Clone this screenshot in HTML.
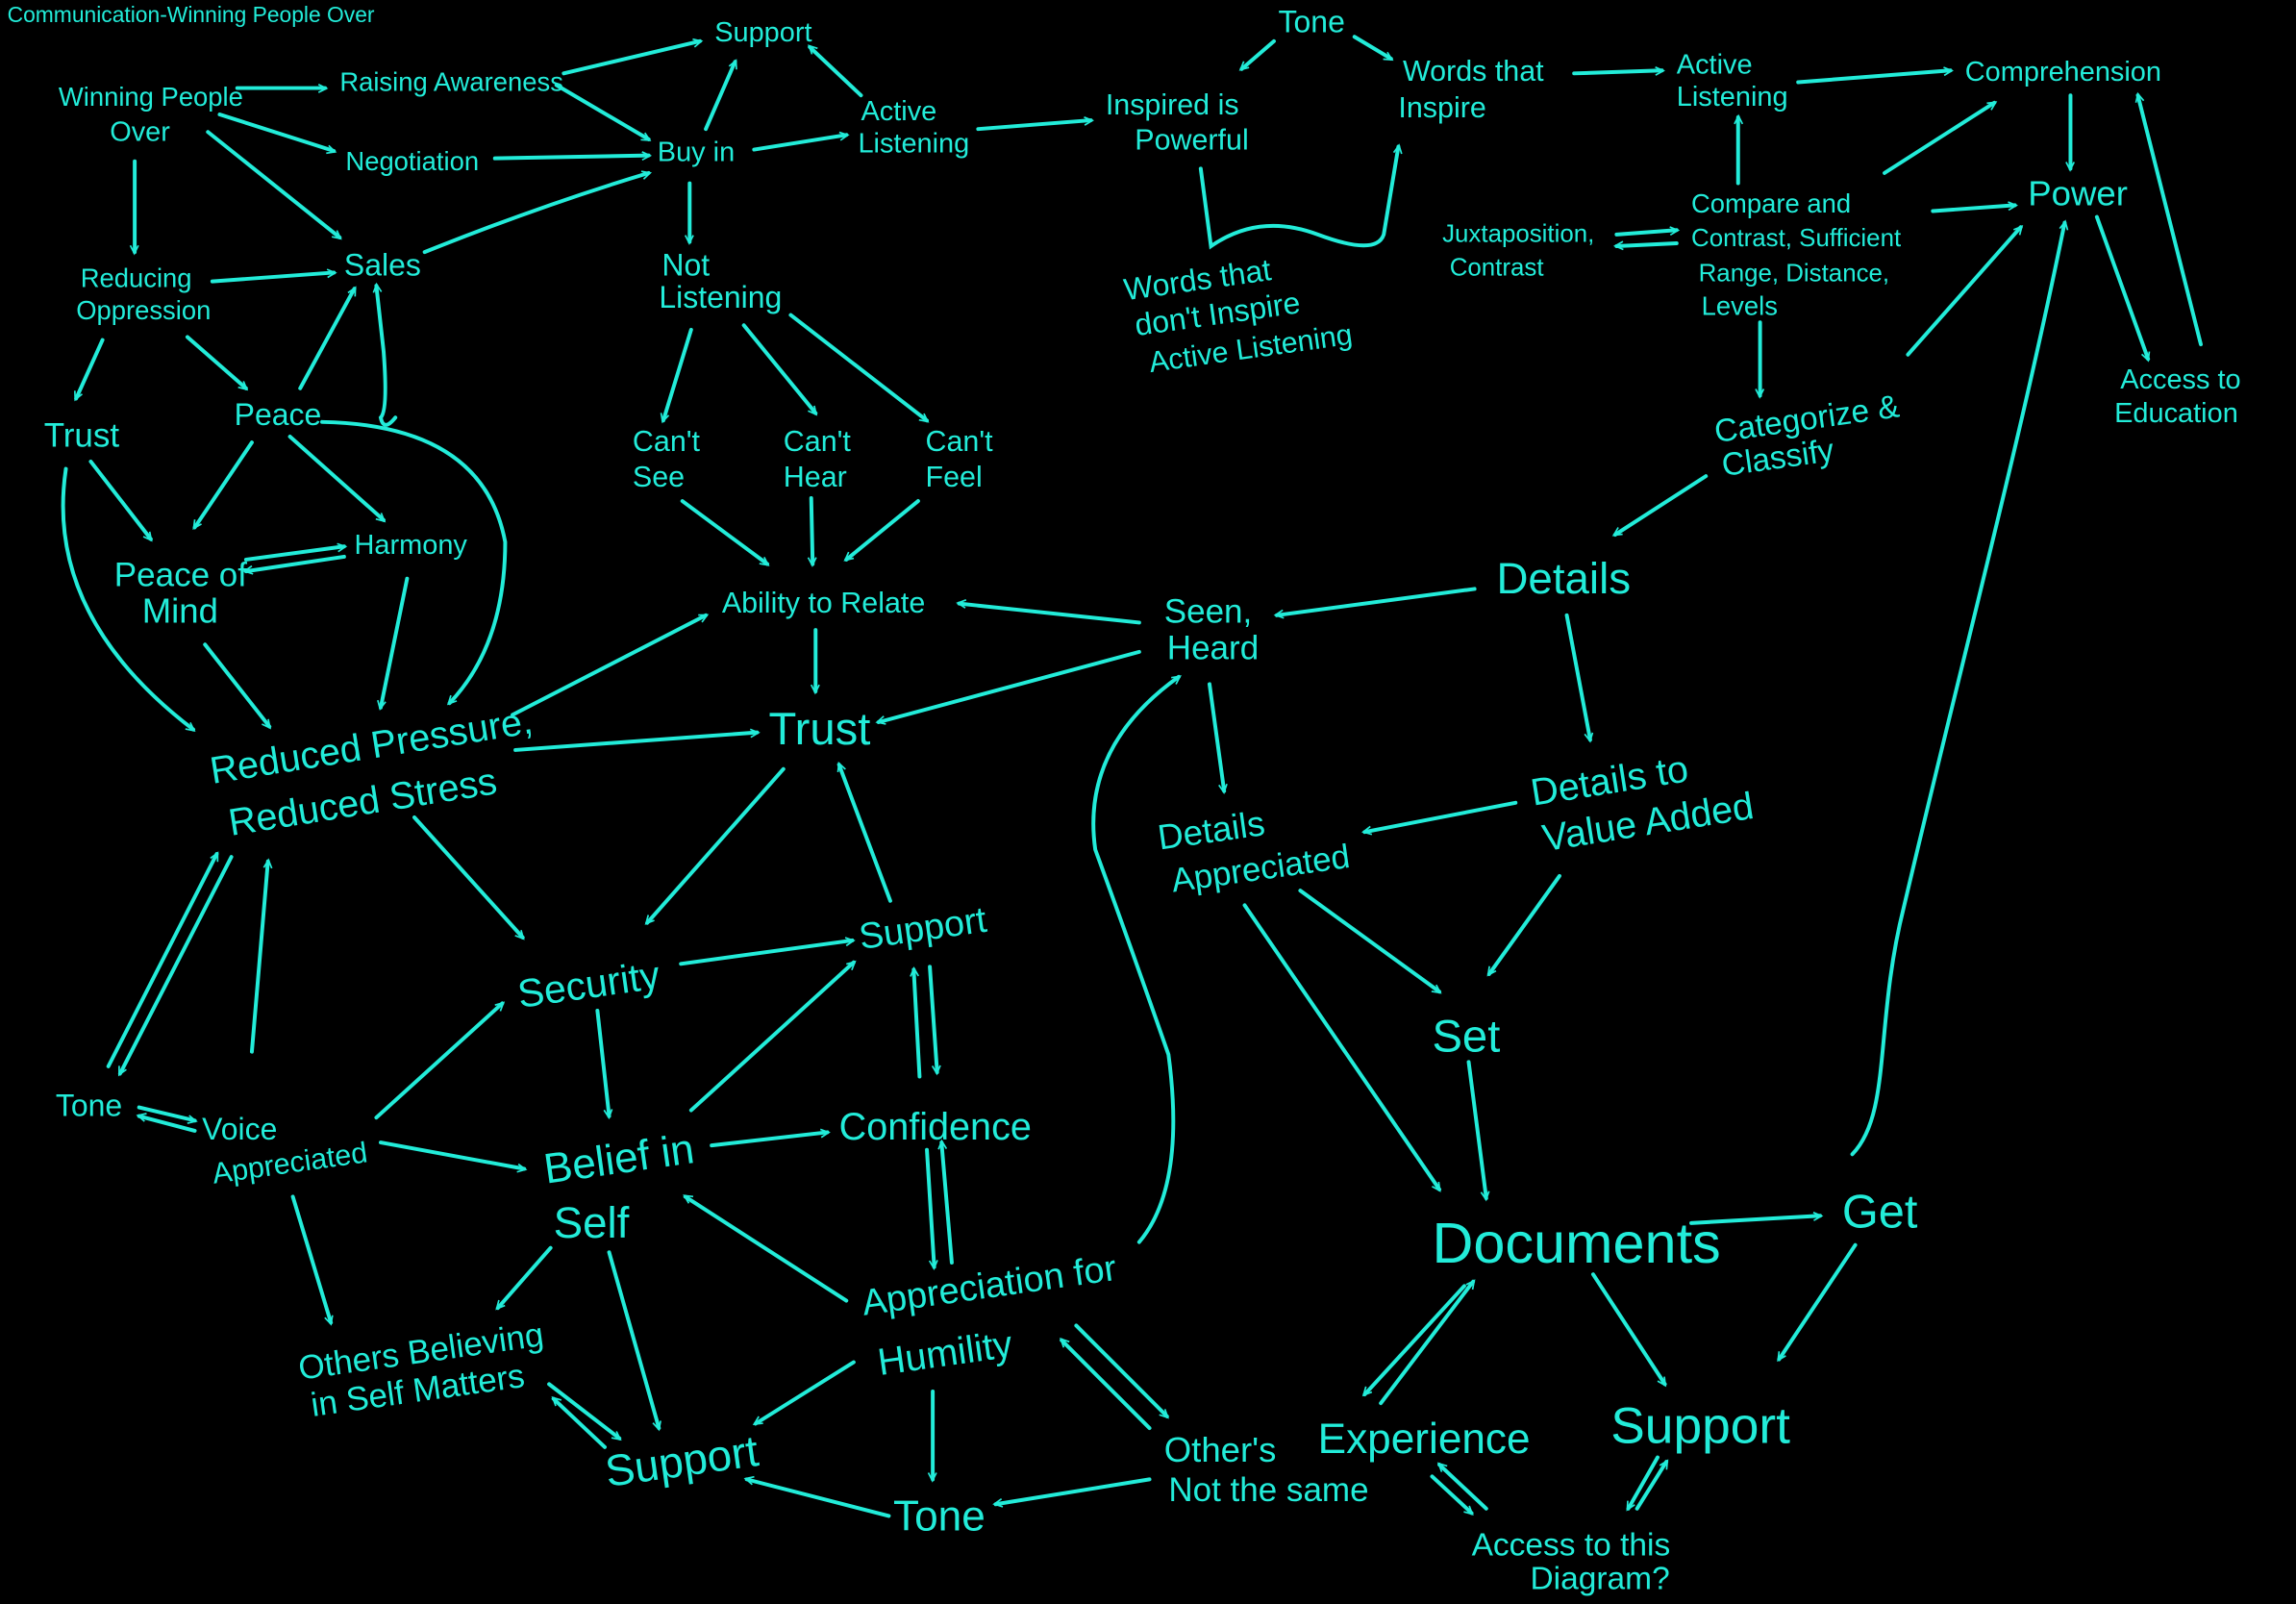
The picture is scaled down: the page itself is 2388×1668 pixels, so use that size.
<!DOCTYPE html>
<html><head><meta charset="utf-8"><style>
html,body{margin:0;padding:0;background:#000;width:2388px;height:1668px;overflow:hidden}
svg{display:block}
text{font-family:"Liberation Sans Narrow","Liberation Sans",sans-serif;fill:#22ecd9}
</style></head><body>
<svg width="2388" height="1668" viewBox="0 0 1568 1095" xmlns="http://www.w3.org/2000/svg">
<defs><marker id="a" viewBox="0 0 10 10" refX="9" refY="5" markerWidth="5" markerHeight="5" orient="auto" markerUnits="userSpaceOnUse" style="overflow:visible"><path d="M0,0 L10,5 L0,10" fill="none" stroke="#22ecd9" stroke-width="2" transform="scale(1.1)"/></marker></defs>
<rect width="1568" height="1095" fill="#000"/>
<g stroke="#22ecd9" stroke-width="2.6" fill="none" stroke-linecap="round" marker-end="url(#a)">
<line x1="162" y1="60" x2="222" y2="60"/><line x1="150" y1="78" x2="228" y2="103"/><line x1="142" y1="90" x2="232" y2="162"/><line x1="92" y1="110" x2="92" y2="172"/>
<line x1="385" y1="50" x2="478" y2="28"/><line x1="380" y1="58" x2="443" y2="95"/><line x1="338" y1="108" x2="443" y2="106"/><path d="M290 172 Q370 140 443 118"/>
<line x1="145" y1="192" x2="228" y2="186"/><line x1="128" y1="230" x2="168" y2="265"/><line x1="70" y1="232" x2="52" y2="272"/>
<line x1="482" y1="88" x2="502" y2="42"/><line x1="515" y1="102" x2="578" y2="92"/><line x1="471" y1="125" x2="471" y2="165"/>
<line x1="588" y1="65" x2="553" y2="32"/><line x1="668" y1="88" x2="745" y2="82"/>
<path d="M820 115 L827 168 Q860 145 900 160 Q940 175 945 160 L955 100"/>
<line x1="870" y1="28" x2="848" y2="47"/><line x1="925" y1="25" x2="950" y2="40"/>
<line x1="1075" y1="50" x2="1135" y2="48"/><line x1="1228" y1="56" x2="1332" y2="48"/><line x1="1414" y1="65" x2="1414" y2="115"/>
<line x1="1187" y1="125" x2="1187" y2="80"/><line x1="1287" y1="118" x2="1362" y2="70"/><line x1="1320" y1="144" x2="1376" y2="140"/><line x1="1202" y1="220" x2="1202" y2="270"/>
<line x1="1104" y1="160" x2="1145" y2="157"/><line x1="1145" y1="166" x2="1104" y2="168"/>
<line x1="1432" y1="148" x2="1467" y2="245"/><line x1="1503" y1="235" x2="1460" y2="65"/>
<line x1="1303" y1="242" x2="1380" y2="155"/><line x1="1165" y1="325" x2="1103" y2="365"/>
<line x1="205" y1="265" x2="242" y2="197"/><path d="M270 285 Q262 295 260 285 Q265 280 262 240 L257 195"/>
<line x1="172" y1="302" x2="133" y2="360"/><line x1="198" y1="298" x2="262" y2="355"/>
<path d="M220 288 Q330 290 345 370 Q345 440 307 480"/>
<line x1="62" y1="315" x2="103" y2="368"/><path d="M45 320 Q30 420 132 498"/>
<line x1="168" y1="382" x2="235" y2="373"/><line x1="235" y1="380" x2="168" y2="390"/>
<line x1="278" y1="395" x2="260" y2="483"/><line x1="140" y1="440" x2="184" y2="496"/>
<line x1="472" y1="225" x2="453" y2="287"/><line x1="508" y1="222" x2="557" y2="282"/><line x1="540" y1="215" x2="633" y2="287"/>
<line x1="466" y1="342" x2="524" y2="385"/><line x1="554" y1="340" x2="555" y2="385"/><line x1="627" y1="342" x2="578" y2="382"/>
<line x1="350" y1="488" x2="482" y2="420"/><line x1="352" y1="512" x2="517" y2="500"/><line x1="557" y1="430" x2="557" y2="472"/>
<line x1="778" y1="425" x2="655" y2="412"/><line x1="778" y1="445" x2="600" y2="493"/><line x1="826" y1="467" x2="836" y2="540"/>
<path d="M778 848 Q810 810 798 720 Q770 640 748 580 Q738 510 805 462"/>
<line x1="1007" y1="402" x2="872" y2="420"/><line x1="1070" y1="420" x2="1086" y2="505"/>
<line x1="1035" y1="548" x2="932" y2="568"/><line x1="1065" y1="598" x2="1017" y2="665"/>
<line x1="888" y1="608" x2="983" y2="677"/><line x1="850" y1="618" x2="983" y2="812"/><line x1="1003" y1="725" x2="1015" y2="818"/>
<line x1="1155" y1="835" x2="1243" y2="830"/><line x1="1088" y1="870" x2="1137" y2="945"/><line x1="1000" y1="878" x2="932" y2="952"/><line x1="943" y1="958" x2="1006" y2="875"/>
<line x1="1267" y1="850" x2="1215" y2="928"/><path d="M1265 788 C1292 760 1280 700 1300 620 C1340 450 1380 300 1410 152"/>
<line x1="1132" y1="995" x2="1112" y2="1030"/><line x1="1118" y1="1030" x2="1138" y2="998"/>
<line x1="1015" y1="1030" x2="983" y2="1000"/><line x1="978" y1="1008" x2="1005" y2="1033"/>
<line x1="785" y1="1010" x2="680" y2="1027"/><line x1="785" y1="975" x2="725" y2="915"/><line x1="735" y1="905" x2="797" y2="967"/>
<line x1="607" y1="1035" x2="510" y2="1010"/>
<line x1="637" y1="950" x2="637" y2="1010"/><line x1="583" y1="930" x2="516" y2="972"/><line x1="578" y1="888" x2="468" y2="817"/>
<line x1="633" y1="785" x2="638" y2="865"/><line x1="650" y1="862" x2="643" y2="780"/>
<line x1="628" y1="735" x2="624" y2="662"/><line x1="635" y1="660" x2="640" y2="732"/>
<line x1="608" y1="615" x2="573" y2="522"/><line x1="535" y1="525" x2="442" y2="630"/><line x1="283" y1="558" x2="357" y2="640"/>
<line x1="465" y1="658" x2="582" y2="642"/><line x1="408" y1="690" x2="416" y2="762"/>
<line x1="486" y1="782" x2="565" y2="773"/><line x1="472" y1="758" x2="583" y2="657"/><line x1="376" y1="852" x2="340" y2="893"/><line x1="416" y1="855" x2="450" y2="975"/>
<line x1="257" y1="763" x2="343" y2="685"/><line x1="260" y1="780" x2="358" y2="798"/><line x1="200" y1="817" x2="226" y2="903"/>
<line x1="172" y1="718" x2="183" y2="588"/><line x1="74" y1="728" x2="148" y2="583"/><line x1="158" y1="585" x2="82" y2="733"/>
<line x1="95" y1="756" x2="133" y2="765"/><line x1="133" y1="772" x2="95" y2="762"/>
<line x1="375" y1="945" x2="423" y2="982"/><line x1="413" y1="988" x2="378" y2="955"/>
</g>
<g>
<text x="5" y="15" font-size="15">Communication-Winning People Over</text>
<text x="40" y="72" font-size="18">Winning People</text><text x="75" y="96" font-size="19">Over</text>
<text x="232" y="62" font-size="18">Raising Awareness</text>
<text x="488" y="28" font-size="19">Support</text>
<text x="236" y="116" font-size="18">Negotiation</text>
<text x="449" y="110" font-size="19">Buy in</text>
<text x="588" y="82" font-size="19">Active</text><text x="586" y="104" font-size="19">Listening</text>
<text x="873" y="22" font-size="21">Tone</text>
<text x="755" y="78" font-size="20">Inspired is</text><text x="775" y="102" font-size="20">Powerful</text>
<text x="958" y="55" font-size="20">Words that</text><text x="955" y="80" font-size="20">Inspire</text>
<text x="1145" y="50" font-size="19">Active</text><text x="1145" y="72" font-size="19">Listening</text>
<text x="1342" y="55" font-size="19">Comprehension</text>
<text x="55" y="196" font-size="18">Reducing</text><text x="52" y="218" font-size="18">Oppression</text>
<text x="235" y="188" font-size="21">Sales</text>
<text x="452" y="188" font-size="21">Not</text><text x="450" y="210" font-size="21">Listening</text>
<text x="985" y="165" font-size="17">Juxtaposition,</text><text x="990" y="188" font-size="17">Contrast</text>
<text x="1155" y="145" font-size="18">Compare and</text><text x="1155" y="168" font-size="17">Contrast, Sufficient</text>
<text x="1160" y="192" font-size="17">Range, Distance,</text><text x="1162" y="215" font-size="18">Levels</text>
<text x="1385" y="140" font-size="24">Power</text>
<g transform="rotate(-8 768 200)"><text x="768" y="205" font-size="21">Words that</text><text x="772" y="230" font-size="21">don't Inspire</text><text x="778" y="256" font-size="20">Active Listening</text></g>
<text x="30" y="305" font-size="23">Trust</text><text x="160" y="290" font-size="21">Peace</text>
<text x="432" y="308" font-size="20">Can't</text><text x="432" y="332" font-size="20">See</text>
<text x="535" y="308" font-size="20">Can't</text><text x="535" y="332" font-size="20">Hear</text>
<text x="632" y="308" font-size="20">Can't</text><text x="632" y="332" font-size="20">Feel</text>
<text x="1172" y="302" font-size="22" transform="rotate(-8 1172 302)">Categorize &amp;</text><text x="1177" y="325" font-size="22" transform="rotate(-8 1177 325)">Classify</text>
<text x="1448" y="265" font-size="19">Access to</text><text x="1444" y="288" font-size="19">Education</text>
<text x="78" y="400" font-size="23">Peace of</text><text x="97" y="425" font-size="24">Mind</text>
<text x="242" y="378" font-size="19">Harmony</text>
<text x="1022" y="405" font-size="30">Details</text>
<text x="493" y="418" font-size="20">Ability to Relate</text>
<text x="795" y="425" font-size="23">Seen,</text><text x="797" y="450" font-size="23">Heard</text>
<text x="525" y="508" font-size="31">Trust</text>
<g transform="rotate(-9 145 535)"><text x="145" y="535" font-size="26">Reduced Pressure,</text><text x="152" y="572" font-size="26">Reduced Stress</text></g>
<g transform="rotate(-9 1047 550)"><text x="1047" y="550" font-size="26">Details to</text><text x="1050" y="582" font-size="26">Value Added</text></g>
<g transform="rotate(-8 792 580)"><text x="792" y="580" font-size="24">Details</text><text x="797" y="610" font-size="23">Appreciated</text></g>
<text x="588" y="648" font-size="25" transform="rotate(-8 588 648)">Support</text>
<text x="355" y="688" font-size="27" transform="rotate(-8 355 688)">Security</text>
<text x="978" y="718" font-size="31">Set</text>
<text x="573" y="778" font-size="26">Confidence</text>
<text x="38" y="762" font-size="21">Tone</text>
<text x="138" y="778" font-size="21">Voice</text><text x="146" y="808" font-size="20" transform="rotate(-8 146 808)">Appreciated</text>
<text x="373" y="808" font-size="29" transform="rotate(-8 373 808)">Belief in</text><text x="378" y="845" font-size="30">Self</text>
<text x="978" y="862" font-size="39">Documents</text>
<text x="1258" y="838" font-size="32">Get</text>
<g transform="rotate(-8 590 898)"><text x="590" y="898" font-size="25">Appreciation for</text><text x="595" y="940" font-size="26">Humility</text></g>
<g transform="rotate(-8 205 942)"><text x="205" y="942" font-size="23">Others Believing</text><text x="210" y="968" font-size="23">in Self Matters</text></g>
<text x="415" y="1015" font-size="30" transform="rotate(-8 415 1015)">Support</text>
<text x="900" y="992" font-size="29">Experience</text>
<text x="1100" y="985" font-size="35">Support</text>
<text x="795" y="998" font-size="24">Other's</text><text x="798" y="1025" font-size="23">Not the same</text>
<text x="610" y="1045" font-size="29">Tone</text>
<text x="1005" y="1062" font-size="22">Access to this</text><text x="1045" y="1085" font-size="22">Diagram?</text>
</g>
</svg>
</body></html>
